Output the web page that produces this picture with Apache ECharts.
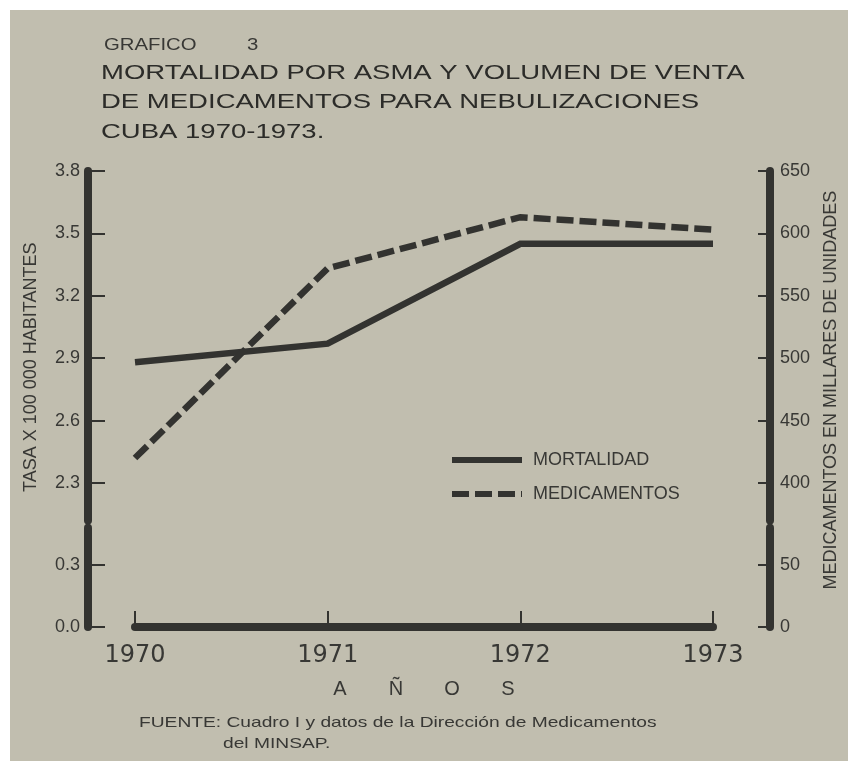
<!DOCTYPE html>
<html><head><meta charset="utf-8">
<script src="https://cdn.jsdelivr.net/npm/echarts@6/dist/echarts.min.js"></script>
<style>
html,body{margin:0;padding:0;background:#ffffff;}
#paper{position:absolute;left:10px;top:10px;width:838px;height:751px;background:#c1beaf;}
#chart{position:absolute;left:0;top:0;width:855px;height:769px;}
</style></head><body>
<div id="paper"></div><div id="chart"></div>
<script>
// ---- data ----
const years = ['1970', '1971', '1972', '1973'];
const mortalidad = [2.88, 2.97, 3.45, 3.45];          // tasa x 100 000 habitantes
const medicamentos = [420, 572, 613, 603];             // millares de unidades
const seriesNames = ['MORTALIDAD', 'MEDICAMENTOS'];
const tasaTicksUpper = [2.3, 2.6, 2.9, 3.2, 3.5, 3.8];
const tasaTicksLower = [0.0, 0.3];
const ventaTicksUpper = [400, 450, 500, 550, 600, 650];
const ventaTicksLower = [0, 50];
const headLabel = 'GRAFICO';
const headNumber = '3';
const titleLines = ['MORTALIDAD POR ASMA Y VOLUMEN DE VENTA', 'DE MEDICAMENTOS PARA NEBULIZACIONES', 'CUBA 1970-1973.'];
const leftName = 'TASA X 100 000 HABITANTES';
const rightName = 'MEDICAMENTOS EN MILLARES DE UNIDADES';
const xName = ['A', 'Ñ', 'O', 'S'];
const sourceLines = ['FUENTE: Cuadro I y datos de la Dirección de Medicamentos', 'del MINSAP.'];

// ---- style ----
const INK = '#333330';
const TXT = '#383835';
const FONT = '"Liberation Sans", Arial, sans-serif';

function yAxis(gridIndex, position, min, max, ticks, fmt, tickLen, offset, margin, extra) {
  return Object.assign({
    type: 'value', gridIndex, position, min, max, offset,
    axisLine: { show: true, onZero: false, lineStyle: { color: INK, width: 8 } },
    axisTick: { show: true, inside: true, length: tickLen, customValues: ticks, lineStyle: { color: INK, width: 2 } },
    axisLabel: { show: true, customValues: ticks, formatter: fmt, color: TXT, fontSize: 18, fontFamily: FONT, margin },
    splitLine: { show: false }
  }, extra || {});
}
const fmtTasa = v => Number(v).toFixed(1);
const fmtVenta = v => String(Math.round(v));

const chart = echarts.init(document.getElementById('chart'), null, { renderer: 'canvas' });
chart.setOption({
  backgroundColor: 'transparent',
  animation: false,
  grid: [
    { left: 135, right: 142, top: 171, height: 349.4, outerBoundsMode: 'none', containLabel: false },
    { left: 135, right: 142, top: 527.8, height: 99.2, outerBoundsMode: 'none', containLabel: false }
  ],
  xAxis: [
    { type: 'category', gridIndex: 0, data: years, boundaryGap: false, show: false },
    { type: 'category', gridIndex: 1, data: years, boundaryGap: false, offset: 3,
      axisLine: { show: true, lineStyle: { color: INK, width: 8 } },
      axisTick: { show: true, inside: true, length: 16, lineStyle: { color: INK, width: 2 } },
      axisLabel: { color: TXT, fontSize: 24, fontFamily: '"DejaVu Sans", sans-serif', margin: 14 },
      splitLine: { show: false },
      name: xName.map(c => '{l|' + c + '}').join(''),
      nameLocation: 'middle', nameGap: 49,
      nameTextStyle: { rich: { l: { width: 56, align: 'center', fontSize: 20, fontFamily: FONT, color: TXT } } }
    }
  ],
  yAxis: [
    yAxis(0, 'left', 2.12, 3.8, tasaTicksUpper, fmtTasa, 17, 47, 8, {
      name: leftName, nameLocation: 'middle', nameRotate: 90, nameGap: 48,
      nameTextStyle: { fontSize: 18, fontFamily: FONT, color: TXT, padding: [0, 43, 0, 0] }
    }),
    yAxis(0, 'right', 370, 650, ventaTicksUpper, fmtVenta, 12, 57, 10, {
      name: rightName, nameLocation: 'middle', nameRotate: 90, nameGap: 52,
      nameTextStyle: { fontSize: 18, fontFamily: FONT, color: TXT, padding: [0, 89, 0, 0] }
    }),
    yAxis(1, 'left', 0, 0.48, tasaTicksLower, fmtTasa, 17, 47, 8),
    yAxis(1, 'right', 0, 80, ventaTicksLower, fmtVenta, 12, 57, 10)
  ],
  legend: {
    orient: 'vertical', left: 449, top: 451, padding: 0, itemWidth: 70, itemHeight: 14, itemGap: 16,
    data: seriesNames, selectedMode: false,
    lineStyle: { width: 6 },
    itemStyle: { opacity: 0 },
    textStyle: { fontSize: 18, fontFamily: FONT, color: TXT, padding: [0, 0, 0, 6] }
  },
  series: [
    { name: seriesNames[0], type: 'line', xAxisIndex: 0, yAxisIndex: 0, data: mortalidad,
      symbol: 'none', silent: true,
      lineStyle: { color: INK, width: 6.5, type: 'solid', cap: 'butt', join: 'miter' },
      itemStyle: { color: INK } },
    { name: seriesNames[1], type: 'line', xAxisIndex: 0, yAxisIndex: 1, data: medicamentos,
      symbol: 'none', silent: true,
      lineStyle: { color: INK, width: 6.5, type: [17, 6], cap: 'butt', join: 'miter' },
      itemStyle: { color: INK } }
  ],
  graphic: [
    { type: 'text', x: 104, y: 46, scaleX: 1.27, silent: true,
      style: { text: headLabel, fontSize: 16, fontFamily: FONT, fill: TXT, verticalAlign: 'middle', align: 'left' } },
    { type: 'text', x: 247, y: 46, scaleX: 1.27, silent: true,
      style: { text: headNumber, fontSize: 16, fontFamily: FONT, fill: TXT, verticalAlign: 'middle', align: 'left' } },
    { type: 'text', x: 101, y: 73.5, scaleX: 1.31, silent: true,
      style: { text: titleLines[0], fontSize: 21, fontFamily: FONT, fill: '#2c2c29', verticalAlign: 'middle', align: 'left' } },
    { type: 'text', x: 101, y: 102.5, scaleX: 1.31, silent: true,
      style: { text: titleLines[1], fontSize: 21, fontFamily: FONT, fill: '#2c2c29', verticalAlign: 'middle', align: 'left' } },
    { type: 'text', x: 101, y: 132.5, scaleX: 1.31, silent: true,
      style: { text: titleLines[2], fontSize: 21, fontFamily: FONT, fill: '#2c2c29', verticalAlign: 'middle', align: 'left' } },
    { type: 'text', x: 139, y: 723, scaleX: 1.28, silent: true,
      style: { text: sourceLines[0], fontSize: 15, fontFamily: FONT, fill: TXT, verticalAlign: 'middle', align: 'left' } },
    { type: 'text', x: 223, y: 744, scaleX: 1.28, silent: true,
      style: { text: sourceLines[1], fontSize: 15, fontFamily: FONT, fill: TXT, verticalAlign: 'middle', align: 'left' } }
  ]
});
</script>
</body></html>
